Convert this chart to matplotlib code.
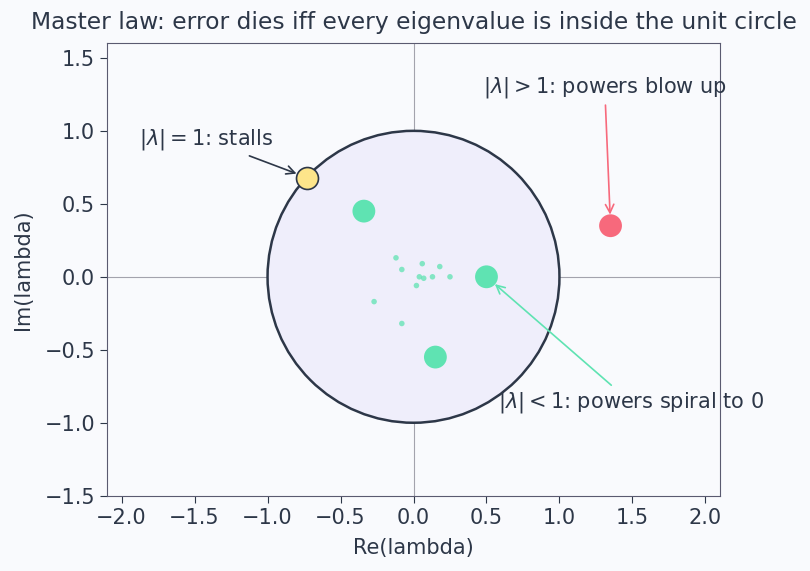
import numpy as np
import matplotlib
matplotlib.use("Agg")
import matplotlib.pyplot as plt
from matplotlib.patches import Circle

# eigenvalues
big_green_re = [-0.34, 0.15, 0.50]
big_green_im = [0.45, -0.55, 0.00]
small_re = [-0.12, -0.08, 0.06, 0.18, 0.04, 0.07, 0.13, 0.25, 0.02, -0.27, -0.08]
small_im = [0.13, 0.05, 0.09, 0.07, 0.00, -0.01, 0.00, 0.00, -0.06, -0.17, -0.32]
stall_pt = (-0.73, 0.68)
blow_pt = (1.35, 0.35)

ink = "#2d3748"
green = "#5fe3b2"
red = "#f7697c"
yellow = "#fde58a"
bg = "#f9fafd"

fig = plt.figure(figsize=(8.1, 5.71), dpi=100, facecolor=bg)
ax = fig.add_axes([107/810, 75/571, 613/810, 453/571])
ax.set_facecolor(bg)

ax.add_patch(Circle((0, 0), 1.0, facecolor="#efeefb", edgecolor=ink, lw=1.8, zorder=1))
ax.axhline(0, color="#a3a3ad", lw=0.8, zorder=0.5)
ax.axvline(0, color="#a3a3ad", lw=0.8, zorder=0.5)

ax.scatter(small_re, small_im, s=16, color=green, alpha=0.75, edgecolors="none", zorder=3)
ax.scatter(big_green_re, big_green_im, s=270, color=green, edgecolors="none", zorder=3)
ax.scatter([blow_pt[0]], [blow_pt[1]], s=270, color=red, edgecolors="none", zorder=3)
ax.scatter([stall_pt[0]], [stall_pt[1]], s=250, color=yellow, edgecolors=ink, lw=1.2, zorder=4)

fs = 15
ax.annotate(r"$|\lambda| = 1$: stalls", xy=stall_pt, xytext=(-1.42, 0.94),
            ha="center", va="center", fontsize=fs, color=ink,
            arrowprops=dict(arrowstyle="->", color=ink, lw=1.2, shrinkB=8))
ax.annotate(r"$|\lambda| > 1$: powers blow up", xy=blow_pt, xytext=(1.31, 1.30),
            ha="center", va="center", fontsize=fs, color=ink,
            arrowprops=dict(arrowstyle="->", color=red, lw=1.2, shrinkB=8))
ax.annotate(r"$|\lambda| < 1$: powers spiral to 0", xy=(0.5, 0.0), xytext=(1.49, -0.86),
            ha="center", va="center", fontsize=fs, color=ink,
            arrowprops=dict(arrowstyle="->", color=green, lw=1.2, shrinkB=8))

ax.set_xlim(-2.1, 2.1)
ax.set_ylim(-1.5, 1.6)
ax.set_aspect("equal")
ax.set_xticks(np.arange(-2.0, 2.01, 0.5))
ax.set_yticks(np.arange(-1.5, 1.51, 0.5))
ax.tick_params(labelsize=fs, colors=ink, length=5)
for s in ax.spines.values():
    s.set_color("#5a5a70")
ax.set_xlabel("Re(lambda)", fontsize=fs, color=ink, labelpad=7.5)
ax.set_ylabel("Im(lambda)", fontsize=fs, color=ink, labelpad=8.5)
ax.set_title("Master law: error dies iff every eigenvalue is inside the unit circle",
             fontsize=16.8, color=ink, pad=10)

fig.savefig("out.png", dpi=100, facecolor=bg)
